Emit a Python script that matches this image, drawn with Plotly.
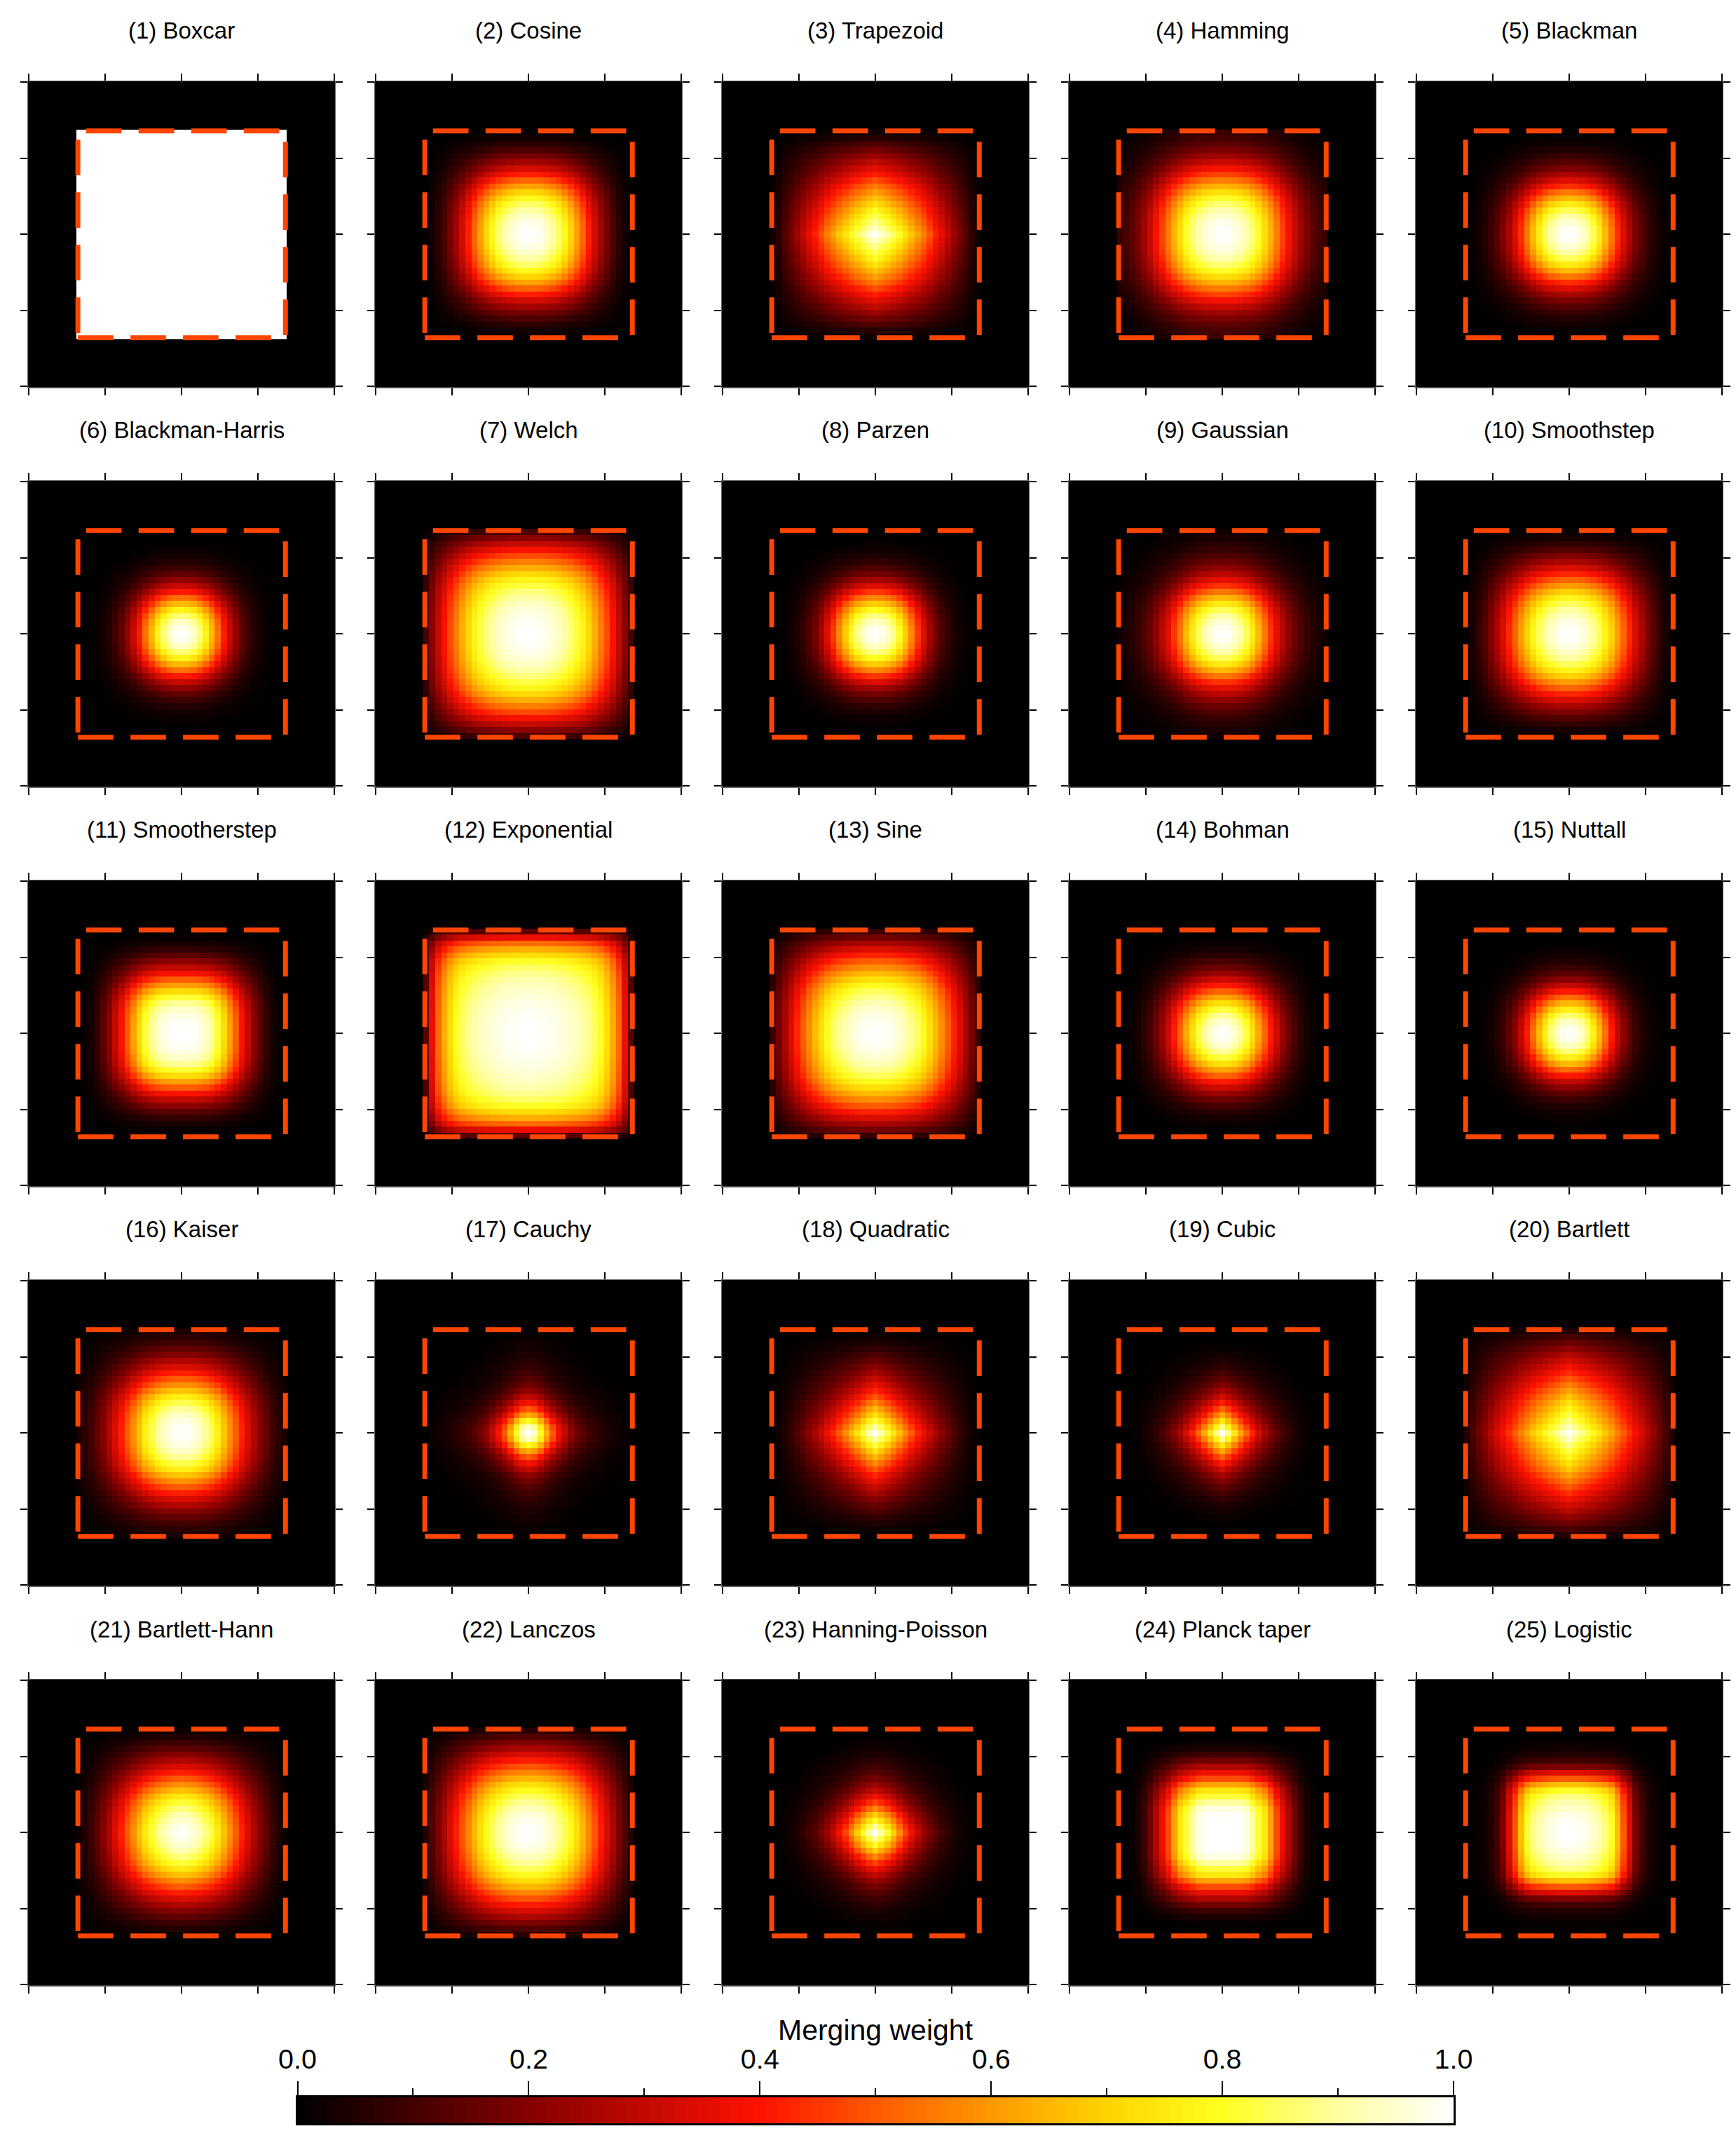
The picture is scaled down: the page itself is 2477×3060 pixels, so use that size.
import numpy as np
import plotly.graph_objects as go

WIDTH, HEIGHT = 2477, 3060

titles = ["(1) Boxcar", "(2) Cosine", "(3) Trapezoid", "(4) Hamming", "(5) Blackman",
          "(6) Blackman-Harris", "(7) Welch", "(8) Parzen", "(9) Gaussian", "(10) Smoothstep",
          "(11) Smootherstep", "(12) Exponential", "(13) Sine", "(14) Bohman", "(15) Nuttall",
          "(16) Kaiser", "(17) Cauchy", "(18) Quadratic", "(19) Cubic", "(20) Bartlett",
          "(21) Bartlett-Hann", "(22) Lanczos", "(23) Hanning-Poisson", "(24) Planck taper", "(25) Logistic"]

# Weight read along the central row of each panel, from the centre cell outwards
boxcar = [1, 1, 1, 1, 1, 1, 1, 1, 1, 1, 1, 1, 1, 1, 1, 1, 1, 1]
cosine = [1, .995, .98, .95, .91, .86, .79, .71, .62, .52, .42, .33, .25, .18, .117, .067, .03, .008]
trapezoid = [1, .95, .9, .85, .8, .74, .68, .62, .56, .49, .42, .36, .3, .24, .18, .125, .065, .025]
hamming = [1, .995, .98, .955, .92, .87, .81, .73, .65, .56, .47, .39, .31, .244, .188, .142, .108, .087]
blackman = [1, .99, .96, .915, .85, .76, .66, .55, .44, .345, .26, .188, .13, .085, .051, .027, .012, .003]
blackman_harris = [1, .985, .945, .875, .78, .665, .54, .415, .31, .22, .147, .094, .056, .03, .015, .007, .002, .001]
welch = [1, .998, .992, .98, .965, .94, .91, .875, .83, .78, .715, .64, .56, .48, .395, .306, .21, .108]
parzen = [1, .986, .945, .885, .8, .695, .575, .455, .345, .25, .176, .118, .074, .043, .022, .009, .003, 0]
gaussian = [1, .99, .96, .915, .85, .76, .66, .55, .45, .36, .284, .218, .163, .119, .085, .059, .04, .026]
smoothstep = [1, .995, .975, .945, .905, .85, .78, .7, .61, .52, .43, .34, .26, .19, .126, .074, .034, .009]
smootherstep = [1, .999, .992, .975, .945, .895, .82, .725, .615, .505, .397, .3, .21, .135, .076, .035, .012, .002]
exponential = [1, .999, .996, .992, .985, .975, .965, .95, .935, .915, .89, .855, .805, .73, .64, .53, .37, .14]
sine = [1, .997, .99, .975, .955, .925, .89, .85, .795, .73, .66, .585, .505, .425, .342, .259, .174, .087]
bohman = [1, .988, .955, .9, .83, .735, .63, .52, .415, .32, .236, .166, .109, .065, .034, .015, .005, .001]
nuttall = [1, .985, .945, .87, .775, .66, .535, .41, .3, .212, .142, .09, .053, .028, .014, .006, .002, 0]
kaiser = [1, .993, .975, .945, .9, .84, .77, .68, .59, .505, .42, .34, .27, .2, .15, .1, .065, .04]
cauchy = [1, .941, .8, .64, .5, .39, .3, .22, .17, .13, .1, .08, .06, .045, .033, .024, .015, .008]
quadratic = [1, .92, .83, .74, .66, .58, .5, .43, .37, .31, .26, .21, .16, .12, .08, .05, .025, .008]
cubic = [1, .88, .75, .63, .52, .42, .33, .26, .2, .15, .11, .075, .05, .03, .016, .007, .002, .001]
bartlett = [1, .944, .889, .84, .79, .74, .685, .625, .565, .505, .444, .389, .333, .278, .222, .167, .111, .056]
bartlett_hann = [1, .985, .96, .925, .88, .825, .755, .675, .59, .505, .421, .343, .27, .202, .142, .091, .05, .019]
lanczos = [1, .996, .985, .965, .935, .895, .85, .795, .73, .655, .575, .495, .415, .338, .263, .191, .122, .059]
hanning_poisson = [1, .91, .81, .7, .58, .47, .38, .3, .235, .18, .135, .1, .07, .045, .028, .015, .006, .002]
planck_taper = [1, 1, 1, .995, .97, .9, .82, .75, .62, .48, .37, .27, .17, .09, .04, .012, .002, 0]
logistic = [1, .998, .99, .975, .95, .92, .88, .81, .67, .5, .35, .19, .1, .05, .025, .012, .005, .002]

profiles = [boxcar, cosine, trapezoid, hamming, blackman,
            blackman_harris, welch, parzen, gaussian, smoothstep,
            smootherstep, exponential, sine, bohman, nuttall,
            kaiser, cauchy, quadratic, cubic, bartlett,
            bartlett_hann, lanczos, hanning_poisson, planck_taper, logistic]

colorbar_title = "Merging weight"
colorbar_ticks = [0.0, 0.2, 0.4, 0.6, 0.8, 1.0]
colorbar_levels = np.linspace(0, 1, 101)

hot = [[0, "#000000"], [0.2, "#850000"], [0.4, "#ff1200"], [0.5, "#ff5a00"], [0.6, "#ff9800"],
       [0.7, "#ffd400"], [0.8, "#ffff20"], [0.9, "#ffffa0"], [1, "#ffffff"]]
FONT = "Liberation Sans"

PANEL_W, PANEL_H = 438.0, 436.5
LEFT0, TOP0 = 40.2, 116.0
DX, DY = 495.0, 570.0
HALF = 25.5
BOX = 17.24
tick_pos = [-25.35, -12.67, 0, 12.67, 25.35]
cells = np.arange(-25, 26)


def field(profile):
    p = np.zeros(26)
    p[:len(profile)] = profile
    line = np.concatenate([p[:0:-1], p])
    return np.outer(line, line)


fig = go.Figure()
layout = dict(
    template="none",
    width=WIDTH, height=HEIGHT, autosize=False,
    margin=dict(l=0, r=0, t=0, b=0, pad=0),
    paper_bgcolor="white", plot_bgcolor="black",
    showlegend=False, annotations=[],
)

for i, (title, prof) in enumerate(zip(titles, profiles)):
    r, c = divmod(i, 5)
    n = i + 1
    xa = f"x{n}" if n > 1 else "x"
    ya = f"y{n}" if n > 1 else "y"
    left, top = LEFT0 + c * DX, TOP0 + r * DY
    axis = dict(range=[-HALF, HALF], tickmode="array", tickvals=tick_pos, ticktext=[""] * 5,
                ticks="outside", ticklen=10, tickwidth=2, tickcolor="black", automargin=False,
                showgrid=False, zeroline=False, showline=True, linewidth=1, linecolor="#666666",
                mirror="allticks", showticklabels=False)
    layout[f"xaxis{n}"] = dict(axis, domain=[left / WIDTH, (left + PANEL_W) / WIDTH], anchor=ya)
    layout[f"yaxis{n}"] = dict(axis, domain=[1 - (top + PANEL_H) / HEIGHT, 1 - top / HEIGHT], anchor=xa)
    fig.add_trace(go.Heatmap(z=field(prof), x=cells, y=cells, colorscale=hot, zmin=0, zmax=1,
                             showscale=False, xaxis=xa, yaxis=ya, hoverinfo="skip"))
    fig.add_trace(go.Scatter(x=[-BOX, BOX, BOX, -BOX, -BOX], y=[-BOX, -BOX, BOX, BOX, -BOX],
                             mode="lines", xaxis=xa, yaxis=ya, hoverinfo="skip",
                             line=dict(color="#ff4500", width=7, dash="50.7px,24.3px")))
    layout["annotations"].append(dict(
        text=title, xref="paper", yref="paper", showarrow=False,
        x=(left + PANEL_W / 2) / WIDTH, y=1 - (top - 72) / HEIGHT,
        xanchor="center", yanchor="middle", font=dict(family=FONT, size=33, color="black")))

# colour bar as its own axis pair
CB_L, CB_R, CB_T, CB_B = 424.5, 2074.0, 2992.0, 3029.0
layout["xaxis26"] = dict(
    domain=[CB_L / WIDTH, CB_R / WIDTH], anchor="y26", range=[0, 1], side="top", automargin=False,
    tickmode="array", tickvals=colorbar_ticks, ticktext=[f"{v:.1f}" for v in colorbar_ticks],
    ticks="outside", ticklen=20, tickwidth=2, tickcolor="black", ticklabelstandoff=2,
    minor=dict(tickmode="array", tickvals=[0.1, 0.3, 0.5, 0.7, 0.9], ticks="outside",
               ticklen=10, tickwidth=2, tickcolor="black"),
    tickfont=dict(family=FONT, size=39.5, color="black"),
    showgrid=False, zeroline=False, showline=True, linewidth=3, linecolor="black", mirror=True)
layout["yaxis26"] = dict(
    domain=[1 - CB_B / HEIGHT, 1 - CB_T / HEIGHT], anchor="x26", range=[0, 1], automargin=False,
    showticklabels=False, ticks="", showgrid=False, zeroline=False,
    showline=True, linewidth=3, linecolor="black", mirror=True)
fig.add_trace(go.Heatmap(z=[colorbar_levels], x=colorbar_levels, y=[0.5], colorscale=hot, zmin=0, zmax=1,
                         showscale=False, xaxis="x26", yaxis="y26", hoverinfo="skip"))
layout["annotations"].append(dict(
    text=colorbar_title, xref="paper", yref="paper", showarrow=False,
    x=1249 / WIDTH, y=1 - 2896 / HEIGHT, xanchor="center", yanchor="middle",
    font=dict(family=FONT, size=41, color="black")))

fig.update_layout(**layout)
fig.write_html("out.html", config={"displayModeBar": False},
               post_script="document.body.style.margin='0';")
